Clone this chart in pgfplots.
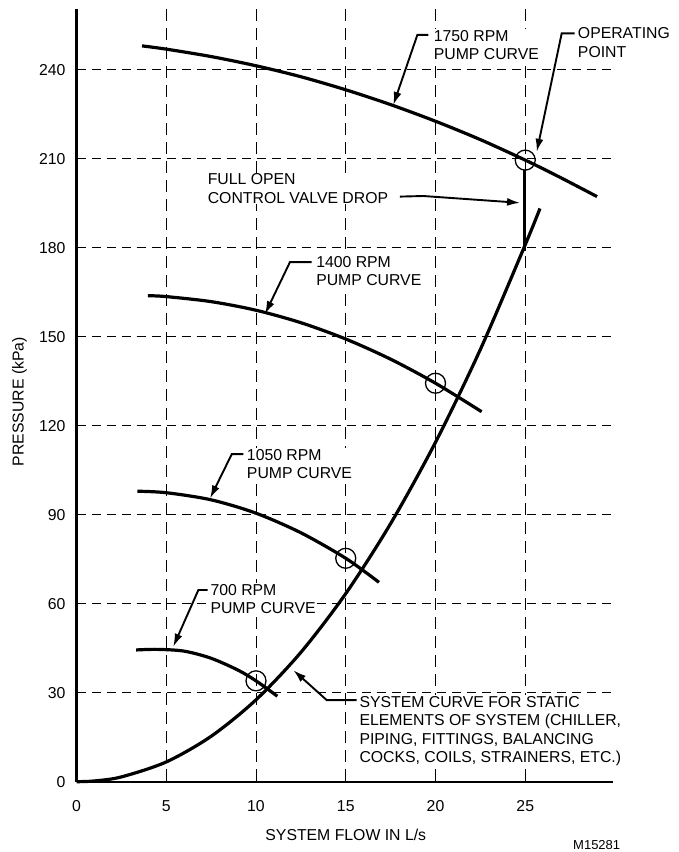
\documentclass[border=0pt]{standalone}
\usepackage{fontspec}
\setmainfont{Liberation Sans}
\usepackage{pgfplots}
\pgfplotsset{compat=1.18}
\usetikzlibrary{arrows.meta}
\newcommand\lbl{\fontsize{15.8bp}{18.5bp}\selectfont}
\begin{document}
\begin{tikzpicture}
\useasboundingbox (-76.5bp,-70.3bp) rectangle (602.5bp,781.7bp);
\begin{axis}[
  anchor=origin, at={(0,0)},
  x=17.95bp, y=2.967bp,
  xmin=0, xmax=29.9, ymin=0, ymax=260.4,
  axis x line*=bottom, axis y line*=left,
  axis line style={line width=2bp,-},
  xtick={0,5,10,15,20,25}, ytick={0,30,60,90,120,150,180,210,240},
  minor tick num=0,
  major tick length=0pt,
  /pgf/number format/assume math mode=true,
  tick label style={font=\lbl},
  xticklabel style={anchor=north, inner sep=0pt, yshift=-18.4bp},
  yticklabel style={anchor=east, inner sep=0pt, xshift=-10.8bp},
  clip=false,
]
% grid
\foreach \gx in {5,10.03,15,20,25} {
  \edef\temp{\noexpand\draw[black, line width=1.3bp, dash pattern=on 12bp off 7bp] (axis cs:\gx,260.4) -- (axis cs:\gx,0);}
  \temp
}
\foreach \gy in {30,60,90,120,150,180,210,240} {
  \edef\temp{\noexpand\draw[black, line width=1.3bp, dash pattern=on 9bp off 6bp] (axis cs:0,\gy) -- (axis cs:29.9,\gy);}
  \temp
}
% text labels (white boxes over grid)
\node[font=\lbl, align=left, anchor=west, fill=white, inner sep=1bp] at (axis cs:19.84,248.3) {1750 RPM\\PUMP CURVE};
\node[font=\lbl, align=left, anchor=west, fill=white, inner sep=1bp] at (axis cs:27.87,249.1) {OPERATING\\POINT};
\node[font=\lbl, align=left, anchor=west, fill=white, inner sep=1bp] at (axis cs:7.25,199.9) {FULL OPEN\\CONTROL VALVE DROP};
\node[font=\lbl, align=left, anchor=west, fill=white, inner sep=1bp] at (axis cs:13.29,172.1) {1400 RPM\\PUMP CURVE};
\node[font=\lbl, align=left, anchor=west, fill=white, inner sep=1bp] at (axis cs:9.43,107.1) {1050 RPM\\PUMP CURVE};
\node[font=\lbl, align=left, anchor=west, fill=white, inner sep=1bp] at (axis cs:7.40,61.5) {700 RPM\\PUMP CURVE};
\node[font=\lbl, align=left, anchor=west, fill=white, inner sep=1bp] at (axis cs:15.70,17.1) {SYSTEM CURVE FOR STATIC\\ELEMENTS OF SYSTEM (CHILLER,\\PIPING, FITTINGS, BALANCING\\COCKS, COILS, STRAINERS, ETC.)};
% axis labels
\node[font=\lbl] at (axis cs:15,-17.8) {SYSTEM FLOW IN L/s};
\node[font=\lbl, rotate=90] at (axis cs:-3.175,128.1) {PRESSURE (kPa)};
\node[font=\fontsize{13bp}{15bp}\selectfont] at (axis cs:28.98,-21.3) {M15281};
% pump curves
\addplot[line width=3.2bp, smooth] coordinates {(3.65,248.0)(5,246.9)(7.5,244.4)(10,241.3)(12.5,237.6)(15,233.2)(17.5,228.2)(20,222.6)(22.5,216.4)(25,209.5)(27,203.5)(29.0,197.2)};
\addplot[line width=3.2bp, smooth] coordinates {(3.98,163.8)(5,163.5)(7.5,161.8)(10,158.9)(12.5,154.7)(15,149.2)(17.5,142.4)(20,134.3)(22.57,124.7)};
\addplot[line width=3.2bp, smooth] coordinates {(3.39,97.9)(5,97.4)(7.5,95.0)(10,90.5)(12.5,83.9)(15,75.3)(16.85,67.2)};
\addplot[line width=3.2bp, smooth] coordinates {(3.32,44.4)(4.5,44.6)(6,44.0)(7.5,41.6)(9,37.6)(10,34.0)(11.19,28.8)};
% system curve
\addplot[line width=3.2bp, smooth] coordinates {(0,0)(1,0.25)(2.5,1.61)(5,6.66)(7.5,15.3)(10,27.6)(12.5,43.6)(15,63.4)(17.5,87.0)(20,114.4)(22.5,145.7)(25,181)(25.82,193.2)};
% control valve drop
\addplot[line width=3bp] coordinates {(24.95,179)(24.95,206.2)};
% operating points
\addplot[only marks, mark=o, mark size=10bp, mark options={line width=1.3bp}] coordinates {(10,34.0)(15,75.3)(20,134.3)(25,209.5)};
% leaders
\draw[line width=1.9bp, -{Latex[length=13bp,width=8bp]}] (axis cs:19.6,251.7) -- (axis cs:18.99,251.7) -- (axis cs:17.65,228.1);
\draw[line width=1.9bp, -{Latex[length=13bp,width=8bp]}] (axis cs:27.75,252.2) -- (axis cs:27.03,252.2) -- (axis cs:25.64,212.3);
\draw[line width=1.9bp, -{Latex[length=13bp,width=8bp]}] (axis cs:18.02,197.2) -- (axis cs:19.32,197.4) -- (axis cs:24.71,195.1);
\draw[line width=1.9bp, -{Latex[length=13bp,width=8bp]}] (axis cs:13.1,175.1) -- (axis cs:11.89,175.1) -- (axis cs:10.50,157.6);
\draw[line width=1.9bp, -{Latex[length=13bp,width=8bp]}] (axis cs:9.3,110.4) -- (axis cs:8.65,110.4) -- (axis cs:7.44,95.5);
\draw[line width=1.9bp, -{Latex[length=13bp,width=8bp]}] (axis cs:7.3,64.6) -- (axis cs:6.79,64.6) -- (axis cs:5.39,45.5);
\draw[line width=1.9bp, -{Latex[length=13bp,width=8bp]}] (axis cs:15.6,27.5) -- (axis cs:13.94,27.5) -- (axis cs:12.08,37.6);
\end{axis}
\end{tikzpicture}
\end{document}
